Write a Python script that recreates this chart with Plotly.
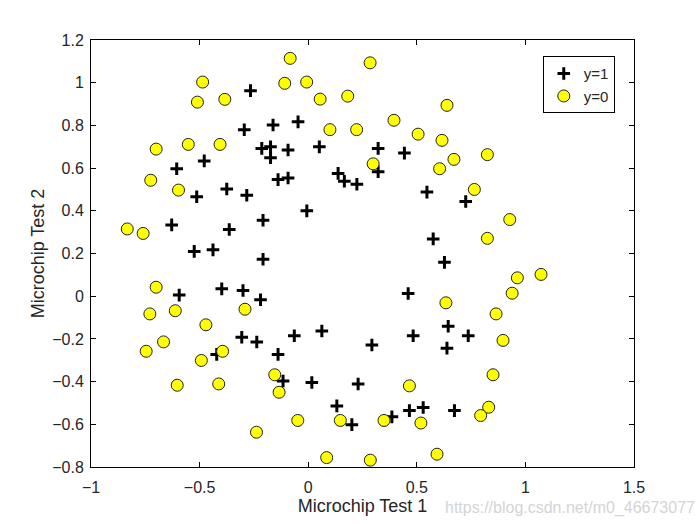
import plotly.graph_objects as go

pos_x = [0.051267, -0.092742, -0.21371, -0.375, -0.51325, -0.52477, -0.39804, -0.30588,
         0.016705, 0.13191, 0.38537, 0.52938, 0.63882, 0.73675, 0.54666, 0.322, 0.16647,
         -0.046659, -0.17339, -0.47869, -0.60541, -0.62846, -0.59389, -0.42108, -0.11578,
         0.20104, 0.46601, 0.67339, -0.13882, -0.29435, -0.26555, -0.16187, -0.17339,
         -0.28283, -0.36348, -0.30012, -0.23675, -0.06394, 0.062788, 0.22984, 0.2932,
         0.48329, 0.64459, 0.46025, 0.6273, 0.57546, 0.72523, 0.22408, 0.44297, 0.322,
         0.13767, -0.0063364, -0.092742, -0.20795, -0.20795, -0.43836, -0.21947, -0.13882]
pos_y = [0.69956, 0.68494, 0.69225, 0.50219, 0.46564, 0.2098, 0.034357, -0.19225,
         -0.40424, -0.51389, -0.56506, -0.5212, -0.24342, -0.18494, 0.48757, 0.5826, 0.53874,
         0.81652, 0.69956, 0.63377, 0.59722, 0.33406, 0.005117, -0.27266, -0.39693,
         -0.60161, -0.53582, -0.53582, 0.54605, 0.77997, 0.96272, 0.8019, 0.64839,
         0.47295, 0.31213, 0.027047, -0.21418, -0.18494, -0.16301, -0.41155, -0.2288,
         -0.18494, -0.14108, 0.012427, 0.15863, 0.26827, 0.44371, 0.52412, 0.67032, 0.69225,
         0.57529, 0.39985, 0.55336, 0.35599, 0.17325, 0.21711, -0.016813, -0.27266]

neg_x = [-0.486, -0.510, -0.384, -0.700, -0.552, -0.406, -0.725, -0.597, -0.833, -0.760,
         -0.083, -0.108, -0.007, 0.285, 0.055, 0.182, 0.639, 0.100, 0.223, 0.395,
         0.506, 0.616, 0.671, 0.605, 0.299, 0.825, 0.765, 0.928, 0.825, 0.963,
         1.072, 0.939, 0.865, 0.897, 0.851, 0.831, 0.794, 0.634, -0.154, -0.134,
         0.466, -0.048, 0.148, 0.349, 0.519, 0.085, 0.286, 0.593, -0.700, -0.729,
         -0.612, -0.291, -0.471, -0.666, -0.746, -0.492, -0.394, -0.603, -0.412, -0.238]
neg_y = [1.003, 0.909, 0.922, 0.689, 0.711, 0.711, 0.543, 0.497, 0.315, 0.294,
         1.114, 0.997, 1.003, 1.093, 0.923, 0.937, 0.894, 0.780, 0.780, 0.824,
         0.759, 0.730, 0.641, 0.597, 0.620, 0.663, 0.500, 0.359, 0.271, 0.086,
         0.102, 0.014, -0.083, -0.207, -0.368, -0.520, -0.559, -0.031, -0.368, -0.450,
         -0.420, -0.582, -0.582, -0.582, -0.594, -0.756, -0.768, -0.740, 0.042, -0.083,
         -0.068, -0.061, -0.134, -0.214, -0.258, -0.301, -0.258, -0.417, -0.411, -0.637]

FONT = "Liberation Sans, Arial, sans-serif"
TXT = "#262626"

fig = go.Figure()
fig.add_trace(go.Scatter(
    x=pos_x, y=pos_y, mode="markers", name="y=1",
    marker=dict(symbol="cross-thin", size=9, color="black",
                line=dict(color="black", width=3))))
fig.add_trace(go.Scatter(
    x=neg_x, y=neg_y, mode="markers", name="y=0",
    marker=dict(symbol="circle", size=12, color="#ffff00",
                line=dict(color="#222222", width=1))))

axis_common = dict(showgrid=False, zeroline=False, showline=True, linecolor="black",
                   linewidth=1, mirror="ticks", ticks="inside", ticklen=5,
                   tickcolor="black", tickfont=dict(family=FONT, size=16, color=TXT),
                   title_font=dict(family=FONT, size=18, color=TXT))

fig.update_xaxes(range=[-1, 1.5], dtick=0.5, tick0=0, title_text="Microchip Test 1",
                 ticklabelstandoff=6, title_standoff=3, **axis_common)
fig.update_yaxes(range=[-0.8, 1.2], dtick=0.2, tick0=0, title_text="Microchip Test 2",
                 ticklabelstandoff=3, title_standoff=2, **axis_common)

fig.update_layout(
    width=700, height=525,
    margin=dict(l=91, r=66, t=40, b=58),
    paper_bgcolor="white", plot_bgcolor="white",
    showlegend=True,
    legend=dict(x=0.832, y=0.962, xanchor="left", yanchor="top",
                bordercolor="black", borderwidth=1, bgcolor="white",
                font=dict(family=FONT, size=15, color=TXT),
                itemwidth=30, tracegroupgap=0),
    annotations=[dict(text="https://blog.csdn.net/m0_46673077", x=1.0, y=0,
                      xref="paper", yref="paper", xanchor="left", yanchor="middle",
                      xshift=-191, yshift=-41, showarrow=False,
                      font=dict(family=FONT, size=16, color="#d4d4d4"))]
)

fig.write_html("out.html")
